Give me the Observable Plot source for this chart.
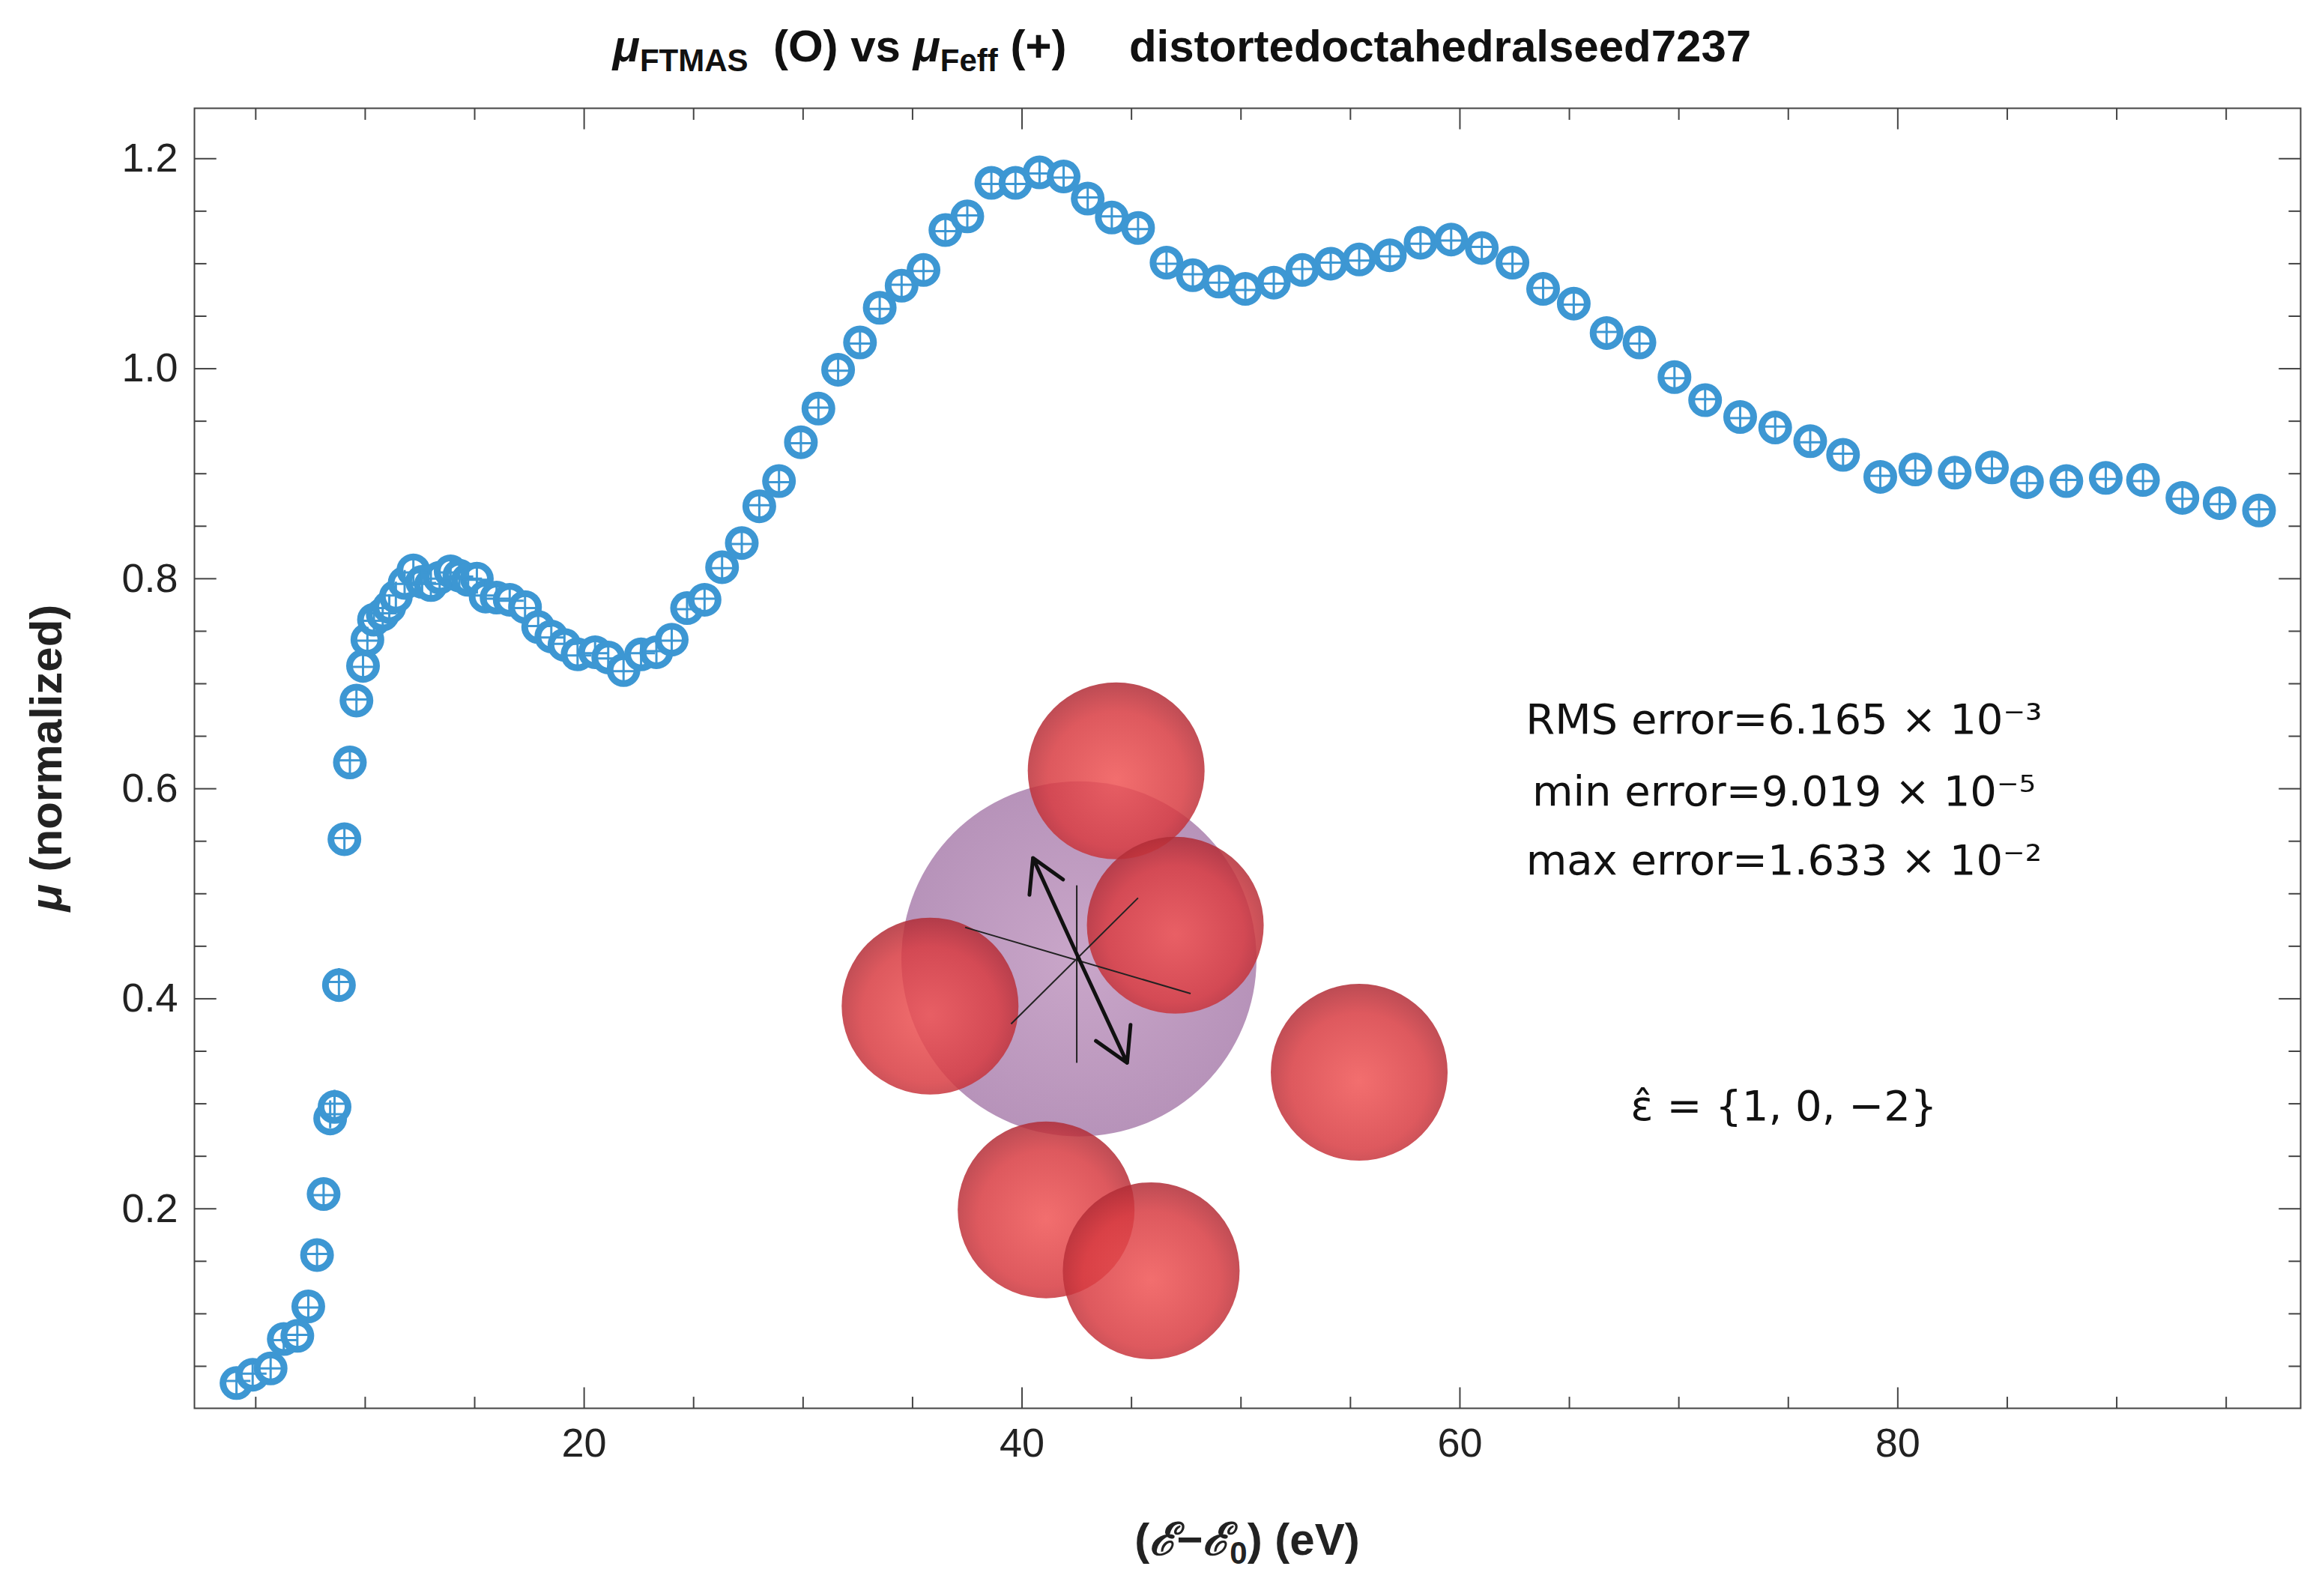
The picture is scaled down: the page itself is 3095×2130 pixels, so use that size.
<!DOCTYPE html>
<html><head><meta charset="utf-8">
<script src="https://cdn.jsdelivr.net/npm/d3@7"></script>
<script src="https://cdn.jsdelivr.net/npm/@observablehq/plot@0.6"></script>
<style>
body{margin:0;background:#fff;font-family:"Liberation Sans",Arial,sans-serif;}
#title{height:100px;width:3095px;text-align:center;font-weight:bold;font-size:60px;line-height:124px;color:#111;padding-left:60px;box-sizing:border-box;}
#title sub{font-size:42px;}
</style></head><body>
<div id="title"><i>μ</i><sub>FTMAS</sub>&nbsp; (O) vs <i>μ</i><sub>Feff</sub> (+) &nbsp;&nbsp;&nbsp; distortedoctahedralseed7237</div>
<div id="chart"></div>
<script>
const energy=[4.12,4.86,5.68,6.28,6.9,7.4,7.8,8.1,8.4,8.6,8.8,9.05,9.3,9.6,9.9,10.1,10.4,10.8,11.1,11.4,11.8,12.2,12.6,13.0,13.4,13.9,14.3,14.7,15.1,15.5,16.0,16.6,17.3,17.9,18.5,19.1,19.7,20.5,21.1,21.8,22.6,23.3,24.0,24.7,25.5,26.3,27.2,28.0,28.9,29.9,30.7,31.6,32.6,33.5,34.5,35.5,36.5,37.5,38.6,39.7,40.8,41.9,43.0,44.1,45.3,46.6,47.8,49.0,50.2,51.5,52.8,54.1,55.4,56.8,58.2,59.6,61.0,62.4,63.8,65.2,66.7,68.2,69.8,71.2,72.8,74.4,76.0,77.5,79.2,80.8,82.6,84.3,85.9,87.7,89.5,91.2,93.0,94.7,96.5];
const muFTMAS=[0.034,0.042,0.048,0.076,0.079,0.107,0.156,0.214,0.286,0.297,0.413,0.552,0.625,0.684,0.717,0.742,0.761,0.766,0.773,0.783,0.796,0.808,0.797,0.794,0.801,0.807,0.803,0.799,0.800,0.783,0.782,0.780,0.773,0.754,0.745,0.737,0.728,0.730,0.725,0.713,0.728,0.730,0.742,0.772,0.780,0.811,0.834,0.869,0.893,0.930,0.962,0.999,1.025,1.058,1.079,1.094,1.132,1.145,1.177,1.177,1.187,1.183,1.162,1.144,1.134,1.101,1.089,1.083,1.076,1.082,1.094,1.100,1.104,1.108,1.120,1.123,1.115,1.101,1.076,1.062,1.034,1.025,0.992,0.970,0.954,0.944,0.931,0.918,0.897,0.904,0.901,0.906,0.892,0.893,0.896,0.894,0.877,0.872,0.865];
const muFeff=[0.036,0.043,0.048,0.075,0.080,0.106,0.157,0.213,0.290,0.300,0.416,0.553,0.627,0.685,0.716,0.741,0.760,0.767,0.772,0.784,0.795,0.806,0.796,0.795,0.800,0.806,0.802,0.800,0.799,0.784,0.781,0.779,0.772,0.755,0.744,0.738,0.727,0.729,0.724,0.712,0.729,0.731,0.741,0.771,0.781,0.810,0.833,0.870,0.892,0.929,0.963,0.998,1.024,1.057,1.080,1.093,1.131,1.146,1.176,1.176,1.186,1.182,1.163,1.145,1.133,1.100,1.090,1.082,1.075,1.081,1.095,1.101,1.103,1.107,1.119,1.122,1.116,1.100,1.077,1.061,1.035,1.024,0.991,0.971,0.953,0.945,0.930,0.919,0.898,0.903,0.900,0.905,0.891,0.894,0.895,0.893,0.876,0.871,0.866];
const xTicks=[20,40,60,80];
const yTicks=[0.2,0.4,0.6,0.8,1.0,1.2];
const sphereCenter={x:42.6,y:0.438};
const atomX=[44.3,35.8,55.4,41.1,45.9,47.0];
const atomY=[0.617,0.393,0.330,0.199,0.141,0.470];
const armLines=[[37.4,0.468,47.7,0.405],[42.5,0.508,42.5,0.339],[39.5,0.376,45.3,0.496]];
const arrows=[[42.6,0.438,40.5,0.534],[42.6,0.438,44.8,0.339]];
const notes=["RMS error=6.165 × 10⁻³","min error=9.019 × 10⁻⁵","max error=1.633 × 10⁻²","ε̂ = {1, 0, −2}"];
const noteX=[74.8,74.8,74.8,74.8];
const noteY=[0.665,0.597,0.531,0.297];

const X0=2.2,X1=98.4,Y0=0.01,Y1=1.248;
const pts=energy.map((e,i)=>({e,a:muFTMAS[i],b:muFeff[i]}));
const atoms=atomX.map((x,i)=>({x,y:atomY[i]}));
const majX=xTicks, minX=d3.range(5,98,5).filter(v=>!xTicks.includes(v));
const majY=yTicks, minY=d3.range(0.05,1.25,0.05).map(v=>+v.toFixed(2)).filter(v=>!yTicks.includes(v));
const tx=v=>[{x1:v,y1:Y0,x2:v,y2:Y0+0.02},{x1:v,y1:Y1,x2:v,y2:Y1-0.02}];
const txm=v=>[{x1:v,y1:Y0,x2:v,y2:Y0+0.011},{x1:v,y1:Y1,x2:v,y2:Y1-0.011}];
const ty=v=>[{x1:X0,y1:v,x2:X0+1.0,y2:v},{x1:X1,y1:v,x2:X1-1.0,y2:v}];
const tym=v=>[{x1:X0,y1:v,x2:X0+0.55,y2:v},{x1:X1,y1:v,x2:X1-0.55,y2:v}];
const ticks=[...majX.flatMap(tx),...minX.flatMap(txm),...majY.flatMap(ty),...minY.flatMap(tym)];
const blue="#3d97d3";
const plot=Plot.plot({
  width:3095,height:2030,marginLeft:259,marginRight:25,marginTop:44,marginBottom:251,
  style:{fontFamily:"Liberation Sans, Arial, sans-serif",fontSize:"54px",color:"#222"},
  x:{domain:[X0,X1]},y:{domain:[Y0,Y1]},
  marks:[
    Plot.frame({stroke:"#444",strokeWidth:2}),
    Plot.link(ticks,{x1:"x1",y1:"y1",x2:"x2",y2:"y2",stroke:"#444",strokeWidth:2}),
    Plot.axisX(xTicks,{tickSize:0,tickPadding:26,fontSize:54,label:null}),
    Plot.axisY(yTicks,{tickSize:0,tickPadding:22,fontSize:54,label:null,tickFormat:d3.format(".1f")}),
    Plot.dot([sphereCenter],{x:"x",y:"y",r:237,fill:"url(#gpur)",stroke:"none"}),
    Plot.dot(atoms,{x:"x",y:"y",r:118,fill:"url(#gred)",stroke:"none",fillOpacity:0.85}),
    Plot.link(armLines,{x1:d=>d[0],y1:d=>d[1],x2:d=>d[2],y2:d=>d[3],stroke:"#222",strokeWidth:2}),
    Plot.arrow(arrows,{x1:d=>d[0],y1:d=>d[1],x2:d=>d[2],y2:d=>d[3],stroke:"#111",strokeWidth:5,headLength:30}),
    Plot.dot(pts,{x:"e",y:"a",r:18,stroke:blue,strokeWidth:9,fill:"white"}),
    Plot.dot(pts,{x:"e",y:"b",r:12,symbol:"plus",stroke:blue,strokeWidth:3}),
    Plot.text(notes,{x:(d,i)=>noteX[i],y:(d,i)=>noteY[i],text:d=>d,fontSize:56,fill:"#111",fontFamily:"DejaVu Sans, sans-serif"})
  ]
});
const svg=d3.select(plot);
const defs=svg.insert("defs",":first-child");
const gr=defs.append("radialGradient").attr("id","gred").attr("cx","50%").attr("cy","55%").attr("r","55%");
gr.append("stop").attr("offset","0%").attr("stop-color","#f05555");
gr.append("stop").attr("offset","70%").attr("stop-color","#d83c42");
gr.append("stop").attr("offset","100%").attr("stop-color","#b02c36");
const gp=defs.append("radialGradient").attr("id","gpur").attr("cx","50%").attr("cy","50%").attr("r","55%");
gp.append("stop").attr("offset","0%").attr("stop-color","#c9a6c9");
gp.append("stop").attr("offset","100%").attr("stop-color","#b591b8");
svg.append("text").attr("x",259+(3070-259)/2).attr("y",1975).attr("text-anchor","middle")
  .attr("font-size",60).attr("font-weight","bold").attr("font-family","Liberation Sans, Arial, sans-serif")
  .html('(<tspan font-style="italic">ℰ</tspan>−<tspan font-style="italic">ℰ</tspan><tspan font-size="42" dy="12">0</tspan><tspan dy="-12">) (eV)</tspan>');
svg.append("text").attr("transform","translate(82,"+(44+(1779-44)/2)+") rotate(-90)").attr("text-anchor","middle")
  .attr("font-size",60).attr("font-weight","bold").attr("font-family","Liberation Sans, Arial, sans-serif")
  .html('<tspan font-style="italic">μ</tspan> (normalized)');
document.getElementById("chart").appendChild(plot);
</script></body></html>
